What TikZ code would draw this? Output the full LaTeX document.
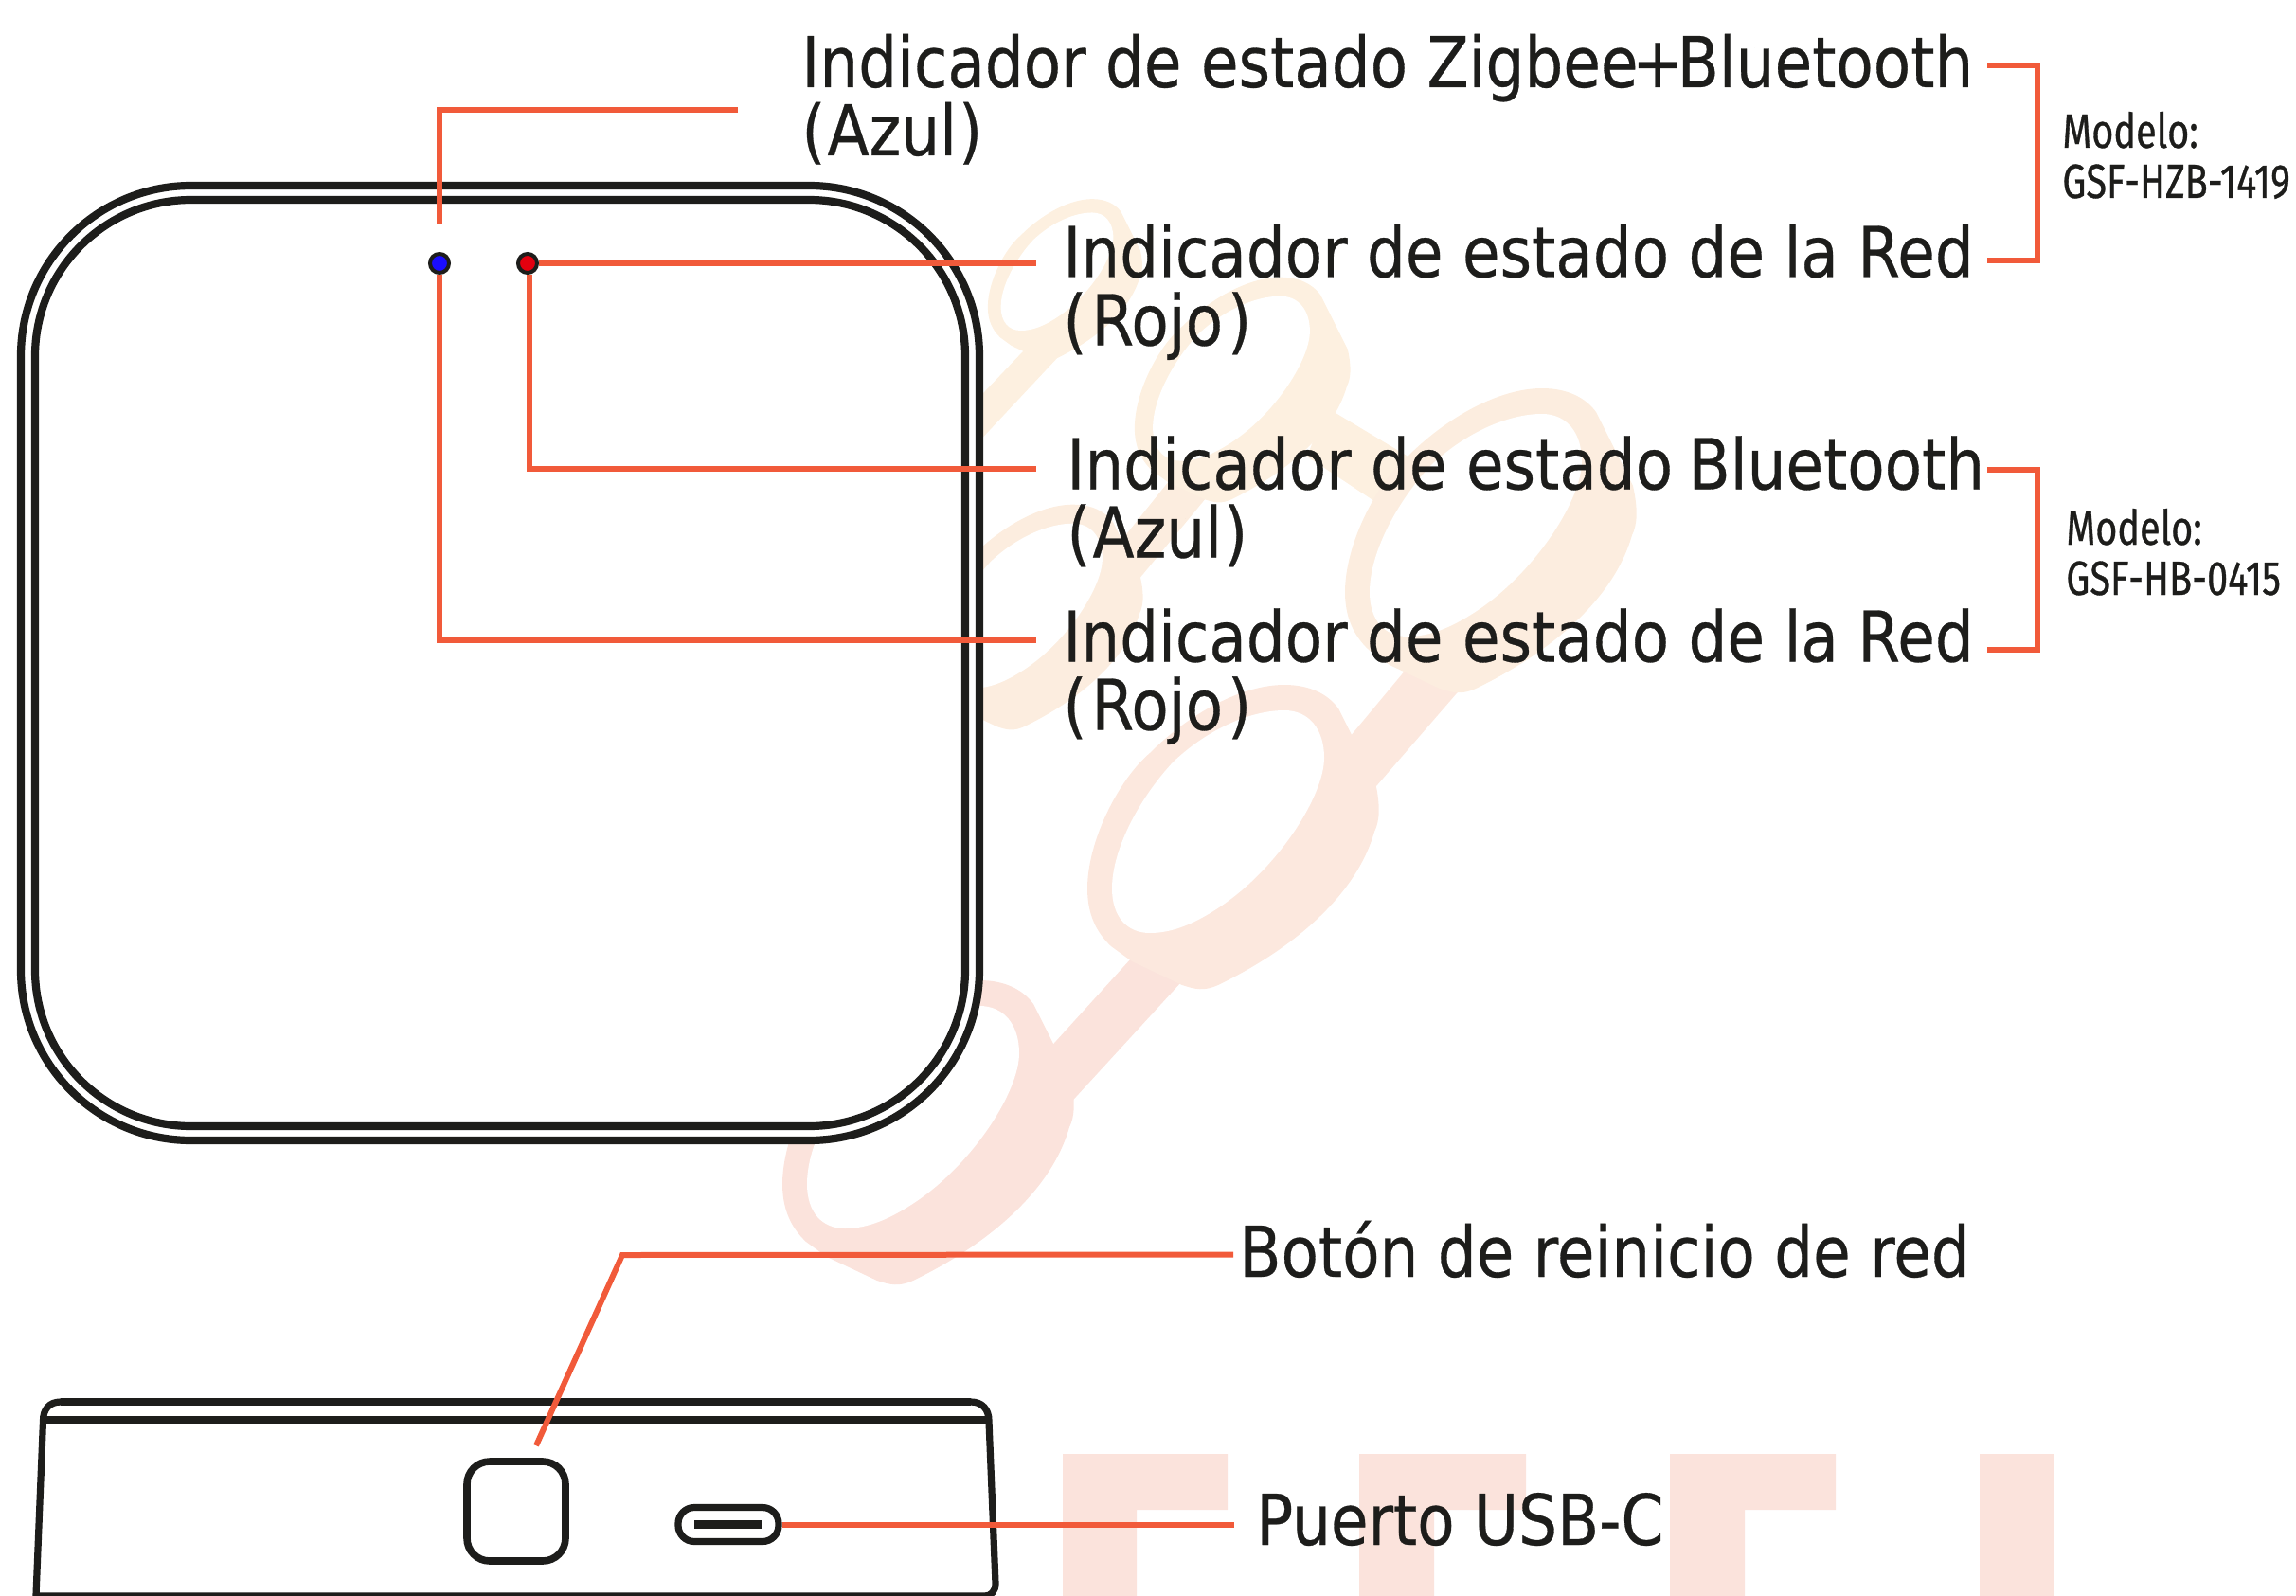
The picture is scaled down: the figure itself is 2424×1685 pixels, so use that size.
\documentclass[tikz,border=0pt]{standalone}
\usepackage{fontspec}
\newfontfamily\labelfont[FakeStretch=0.87, FakeBold=0.4]{DejaVu Sans}
\newfontfamily\modelfont[FakeStretch=0.78, FakeBold=0.6]{Fira Sans}
\definecolor{inkblack}{HTML}{1D1D1B}
\definecolor{wireorange}{HTML}{F15A3A}
\definecolor{ledblue}{HTML}{1A0DFF}
\definecolor{ledred}{HTML}{E3000F}
\definecolor{wmtop}{HTML}{FDF0E0}
\definecolor{wmmid}{HTML}{FCEDDF}
\definecolor{wmlow}{HTML}{FCE8DE}
\definecolor{wmend}{HTML}{FBE3DC}
\newcommand{\ringouter}[4]{\fill[#4, shift={(#1,#2)}, scale=#3] (70,-145) .. controls (97,-145) and (116,-135) .. (127,-120)
    -- (166,-42) .. controls (172,-15) and (170,0) .. (165,10) .. controls (145,80) and (75,135) .. (4,170)
    .. controls (-15,180) and (-25,176) .. (-38,172) -- (-91,147) -- (-113,131)
    .. controls (-130,115) and (-138,95) .. (-138,70) .. controls (-138,20) and (-105,-45) .. (-72,-73)
    .. controls (-30,-115) and (25,-145) .. cycle;}
\newcommand{\ringhole}[3]{\fill[white, shift={(#1,#2)}, scale=#3] (70,-118) .. controls (96,-118) and (112,-98) .. (112,-68)
    .. controls (112,-28) and (64,47) .. (4,88) .. controls (-24,107) and (-48,117) .. (-72,117)
    .. controls (-96,117) and (-112,100) .. (-112,70) .. controls (-112,27) and (-81,-28) .. (-47,-64)
    .. controls (-11,-98) and (34,-118) .. cycle;}
\tikzset{
    wire/.style={draw=wireorange, line width=3pt, miter limit=10},
    bodyline/.style={draw=inkblack, line width=4.1pt},
    plate/.style={rectangle, bodyline, inner sep=0pt, rounded corners=#1},
    led/.style={circle, draw=inkblack, line width=2pt, inner sep=0pt, minimum size=10pt},
    lbl/.style={anchor=base west, inner sep=0pt, align=left, text=inkblack,
        font=\labelfont\fontsize{37}{36}\selectfont},
    modellbl/.style={anchor=base west, inner sep=0pt, align=left, text=inkblack,
        font=\modelfont\fontsize{25.4}{26.5}\selectfont},
}
\begin{document}
\begin{tikzpicture}[x=0.5pt, y=-0.5pt]
    \clip (0,0) rectangle (2424,1685);

    % watermark
    \fill[wmtop] (1080,371) -- (1118,376) -- (1000,502) -- (1000,455) -- cycle;
    \fill[wmtop] (1400,430) -- (1490,484) -- (1460,535) -- (1380,482) -- cycle;
    \fill[wmmid] (1238,503) -- (1178,578) -- (1197,618) -- (1278,520) -- cycle;
    \fill[wmlow] (1490,700) -- (1415,790) -- (1440,845) -- (1550,718) -- cycle;
    \fill[wmend] (1205,1000) -- (1105,1110) -- (1125,1170) -- (1258,1025) -- cycle;
    \ringouter{1116}{287}{0.53}{wmtop}
    \ringouter{1300}{400}{0.74}{wmtop}
    \ringouter{1081}{640}{0.74}{wmmid}
    \ringouter{1558}{555}{1}{wmmid}
    \ringouter{1286}{868}{1}{wmlow}
    \ringouter{964}{1180}{1}{wmend}
    \ringhole{1116}{287}{0.53}
    \ringhole{1300}{400}{0.74}
    \ringhole{1081}{640}{0.74}
    \ringhole{1558}{555}{1}
    \ringhole{1286}{868}{1}
    \ringhole{964}{1180}{1}
    \fill[wmend] (1122,1535) -- (1296,1535) -- (1296,1594) -- (1200,1594) -- (1200,1690) -- (1122,1690) -- cycle;
    \fill[wmend] (1435,1535) -- (1611,1535) -- (1611,1594) -- (1514,1594) -- (1514,1690) -- (1435,1690) -- cycle;
    \fill[wmend] (1763,1535) -- (1938,1535) -- (1938,1594) -- (1842,1594) -- (1842,1690) -- (1763,1690) -- cycle;
    \fill[wmend] (2090,1535) rectangle (2168,1690);

    % top view
    \node[plate=90pt, fill=white, minimum width=506pt, minimum height=504pt] at (528, 700)(bodyouter){};
    \node[plate=82.5pt, minimum width=491pt, minimum height=489pt] at (528, 700)(bodyinner){};

    % side view
    \draw[bodyline, line width=3.6pt] (38,1685) -- (45.5,1500) .. controls (45.5,1488) and (52,1480) .. (64,1480)
        -- (1025,1480) .. controls (1037,1480) and (1044,1488) .. (1044,1500)
        -- (1051,1672) .. controls (1051,1680) and (1046,1685) .. (1040,1685) -- cycle;
    \draw[bodyline] (64,1480) -- (1025,1480);
    \draw[bodyline] (46,1499) -- (1044,1499);
    \node[plate=12pt, minimum width=52pt, minimum height=52.5pt, line width=3.8pt] at (545, 1595.5)(btnreset){};
    \node[plate=8.5pt, minimum width=53pt, minimum height=18pt, line width=3.6pt] at (769, 1609.5)(usbport){};
    \node[fill=inkblack, inner sep=0pt, minimum width=35.5pt, minimum height=4.5pt] at (768.5, 1609.5)(usbslot){};

    % labels
    \node[lbl] at (846, 164)(lblzig){Indicador de estado Zigbee\kern-3.2pt+\kern-3.2pt Bluetooth\\(\kern1pt Azul\kern1pt)};
    \node[lbl] at (1122, 364.5)(lblredone){Indicador de estado de la Red\\(\kern2.5pt Rojo\kern2.5pt)};
    \node[lbl] at (1126, 588.5)(lblble){Indicador de estado\kern-2pt{} Bluetooth\\(\kern1pt Azul\kern1pt)};
    \node[lbl] at (1122, 770.5)(lblredtwo){Indicador de estado de la Red\\(\kern2.5pt Rojo\kern2.5pt)};
    \node[lbl] at (1308, 1348)(lblreset){Botón de reinicio de red};
    \node[lbl] at (1326, 1631)(lblusb){Puerto USB-C};
    \node[modellbl] at (2177, 209)(modelone){Modelo:\\GSF-HZB-1419};
    \node[modellbl] at (2181, 628)(modeltwo){Modelo:\\GSF-HB-0415};

    % LEDs
    \node[led, fill=ledblue] at (464, 278)(dotblue){};
    \node[led, fill=ledred] at (557, 278)(dotred){};

    % connectors
    \coordinate (resetbend) at (657, 1325);
    \coordinate (zigtail) at (2098, 69);
    \coordinate (redtail) at (2098, 275);
    \coordinate (bletail) at (2098, 496);
    \coordinate (redtwotail) at (2098, 686);
    \draw[wire] ([shift={(-67,-48)}]lblzig.base west) -| ([shift={(0,-29)}]dotblue.north);
    \draw[wire] (dotred.east) -- ([shift={(-28,-86.5)}]lblredone.base west);
    \draw[wire] ([xshift=1pt]dotred.south) |- ([shift={(-32,-93.5)}]lblble.base west);
    \draw[wire] (dotblue.south) |- ([shift={(-28,-94.5)}]lblredtwo.base west);
    \draw[wire] ([shift={(-6,-23.5)}]lblreset.base west) -- (resetbend) -- ([shift={(21,-13)}]btnreset.north);
    \draw[wire] (usbport.east) -- ([shift={(-23,-21.5)}]lblusb.base west);
    \draw[wire] (zigtail) -- ++(53,0) |- (redtail);
    \draw[wire] (bletail) -- ++(53,0) |- (redtwotail);
\end{tikzpicture}
\end{document}
